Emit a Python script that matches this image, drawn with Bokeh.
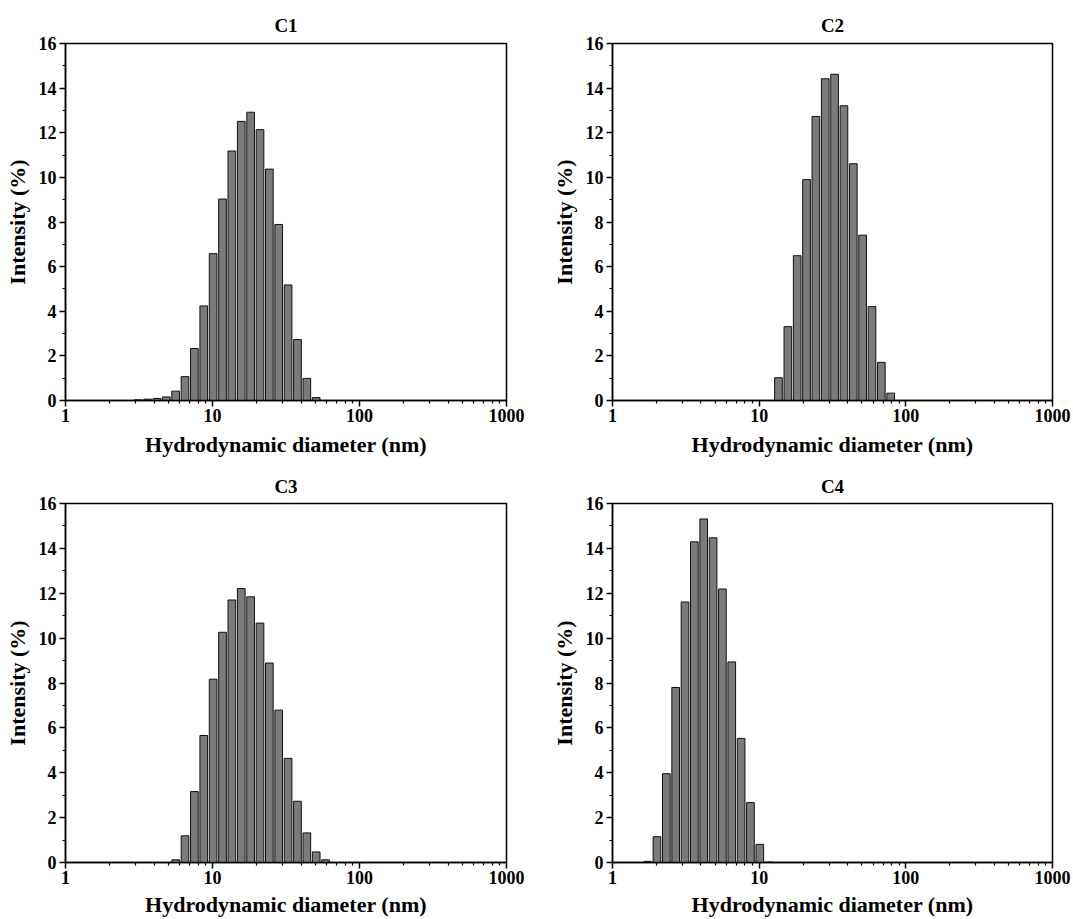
from bokeh.plotting import figure
from bokeh.layouts import column, row
from bokeh.models import Range1d, FixedTicker, PrintfTickFormatter, ColumnDataSource
from bokeh.embed import file_html
from bokeh.resources import INLINE

# DLS intensity distributions (size bin centres in nm, intensity in %)
c1_size = [3.122, 3.615, 4.187, 4.849, 5.615, 6.503, 7.531, 8.721, 10.10, 11.70,
           13.54, 15.69, 18.17, 21.04, 24.36, 28.21, 32.67, 37.84, 43.82, 50.75]
c1_intensity = [0.03, 0.06, 0.09, 0.16, 0.42, 1.07, 2.33, 4.24, 6.58, 9.03,
                11.18, 12.51, 12.92, 12.14, 10.37, 7.89, 5.18, 2.73, 0.99, 0.13]

c2_size = [13.54, 15.69, 18.17, 21.04, 24.36, 28.21, 32.67, 37.84, 43.82, 50.75,
           58.77, 68.06, 78.82]
c2_intensity = [1.02, 3.31, 6.49, 9.90, 12.73, 14.42, 14.62, 13.21, 10.61, 7.41,
                4.21, 1.71, 0.33]

c3_size = [5.615, 6.503, 7.531, 8.721, 10.10, 11.70, 13.54, 15.69, 18.17, 21.04,
           24.36, 28.21, 32.67, 37.84, 43.82, 50.75, 58.77]
c3_intensity = [0.12, 1.19, 3.16, 5.66, 8.17, 10.26, 11.70, 12.21, 11.84, 10.67,
                8.89, 6.79, 4.64, 2.73, 1.32, 0.47, 0.12]

c4_size = [1.736, 2.010, 2.328, 2.696, 3.122, 3.615, 4.187, 4.849, 5.615, 6.503,
           7.531, 8.721, 10.10, 11.70]
c4_intensity = [0.05, 1.15, 3.96, 7.80, 11.61, 14.29, 15.31, 14.47, 12.19, 8.94,
                5.53, 2.67, 0.81, 0.02]

sample_names = ["C1", "C2", "C3", "C4"]
x_ticks = [1, 10, 100, 1000]
x_minor_ticks = [m * d for d in (1, 10, 100) for m in range(2, 10)]
y_ticks = [0, 2, 4, 6, 8, 10, 12, 14, 16]
y_minor_ticks = [1, 3, 5, 7, 9, 11, 13, 15]

FONT = "Liberation Serif"
BAR_FILL = "#7b7b7b"
BAR_FRACTION = 0.82  # share of each log-spaced bin covered by its bar


def bar_edges(sizes):
    n = len(sizes)
    ratio = (sizes[-1] / sizes[0]) ** (1.0 / (n - 1))
    half = ratio ** (BAR_FRACTION / 2.0)
    return [s / half for s in sizes], [s * half for s in sizes]


def make_panel(name, sizes, intensity, width, height, left, right, top, bottom,
               title_standoff, xlabel_standoff):
    p = figure(width=width, height=height, x_axis_type="log",
               x_range=Range1d(1, 1000), y_range=Range1d(0, 16),
               output_backend="svg", toolbar_location=None,
               min_border_left=left, min_border_right=right,
               min_border_top=top, min_border_bottom=bottom,
               title=name)
    lefts, rights = bar_edges(sizes)
    src = ColumnDataSource(dict(left=lefts, right=rights, top=intensity,
                                bottom=[0] * len(sizes)))
    p.quad(left="left", right="right", top="top", bottom="bottom", source=src,
           fill_color=BAR_FILL, line_color="#111111", line_width=1)

    p.title.text_font = FONT
    p.title.text_font_size = "19px"
    p.title.text_font_style = "bold"
    p.title.align = "center"
    p.title.text_color = "black"
    p.title.standoff = title_standoff

    p.grid.visible = False
    p.outline_line_color = "black"
    p.outline_line_width = 1.5
    p.outline_line_alpha = 1.0
    p.background_fill_color = "white"
    p.border_fill_color = "white"

    p.xaxis.ticker = FixedTicker(ticks=x_ticks, minor_ticks=x_minor_ticks)
    p.xaxis.formatter = PrintfTickFormatter(format="%d")
    p.yaxis.ticker = FixedTicker(ticks=y_ticks, minor_ticks=y_minor_ticks)
    p.xaxis.axis_label = "Hydrodynamic diameter (nm)"
    p.yaxis.axis_label = "Intensity (%)"

    for ax in (p.xaxis[0], p.yaxis[0]):
        ax.axis_line_color = "black"
        ax.axis_line_width = 1.5
        ax.major_tick_line_color = "black"
        ax.major_tick_line_width = 1.5
        ax.minor_tick_line_color = "black"
        ax.minor_tick_line_width = 1.2
        ax.major_tick_in = 0
        ax.major_tick_out = 6
        ax.minor_tick_in = 0
        ax.minor_tick_out = 3
        ax.major_label_text_font = FONT
        ax.major_label_text_font_size = "18px"
        ax.major_label_text_font_style = "bold"
        ax.major_label_text_color = "black"
        ax.axis_label_text_font = FONT
        ax.axis_label_text_font_size = "22px"
        ax.axis_label_text_font_style = "bold"
        ax.axis_label_text_color = "black"
    p.xaxis.major_label_standoff = 2
    p.xaxis.axis_label_standoff = xlabel_standoff
    p.yaxis.major_label_standoff = 3
    p.yaxis.axis_label_standoff = 6
    return p


sizes = [c1_size, c2_size, c3_size, c4_size]
values = [c1_intensity, c2_intensity, c3_intensity, c4_intensity]

p1 = make_panel(sample_names[0], sizes[0], values[0], 537, 460, 65, 31, 43, 60, 16, 7)
p2 = make_panel(sample_names[1], sizes[1], values[1], 536, 460, 75, 21, 43, 60, 16, 7)
p3 = make_panel(sample_names[2], sizes[2], values[2], 537, 459, 65, 31, 43, 56, 14, 5)
p4 = make_panel(sample_names[3], sizes[3], values[3], 536, 459, 75, 21, 43, 56, 14, 5)

layout = column(row(p1, p2), row(p3, p4))

with open("out.html", "w") as f:
    f.write(file_html(layout, INLINE))
